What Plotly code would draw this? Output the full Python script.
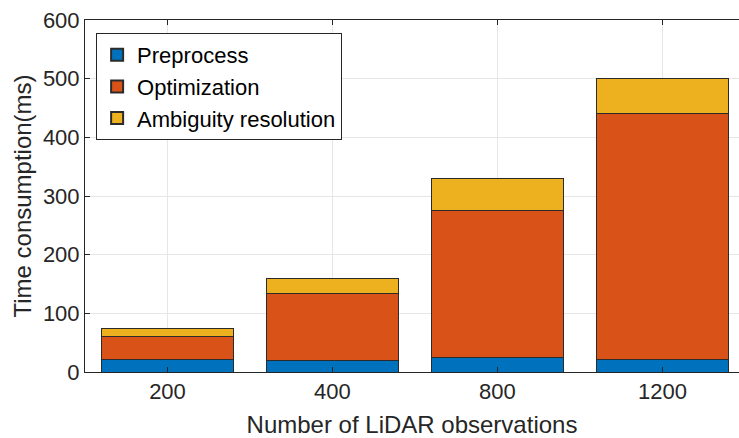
import plotly.graph_objects as go

# Category labels (number of LiDAR observations)
categories = ["200", "400", "800", "1200"]

# Stacked time components (ms)
preprocess = [22, 19, 24, 21]
optimization = [38, 114, 252, 419]
ambiguity = [15, 27, 54, 60]

series_names = ["Preprocess", "Optimization", "Ambiguity resolution"]
series_colors = ["#0072BD", "#D95319", "#EDB120"]

fig = go.Figure()
for name, vals, col in zip(series_names, [preprocess, optimization, ambiguity], series_colors):
    fig.add_trace(go.Bar(
        x=categories, y=vals, name=name,
        marker=dict(color=col, line=dict(color="#2b2b2b", width=1)),
        width=0.8,
    ))

font_family = "Arial, Liberation Sans, Helvetica, sans-serif"
fig.update_layout(
    barmode="stack",
    width=739, height=438,
    margin=dict(l=85, r=0, t=20, b=66),
    paper_bgcolor="white",
    plot_bgcolor="white",
    font=dict(family=font_family, size=20, color="#262626"),
    legend=dict(
        x=0.017, y=0.963, xanchor="left", yanchor="top",
        bgcolor="white", bordercolor="#262626", borderwidth=1,
        font=dict(size=22, color="#000000"),
        traceorder="normal",
        itemsizing="constant",
        tracegroupgap=0,
        itemwidth=30,
    ),
    bargap=0.2,
)
fig.update_xaxes(
    type="category",
    range=[-0.5, 3.464],
    showgrid=True, gridcolor="#e6e6e6", gridwidth=1,
    showline=True, linecolor="#262626", linewidth=1, mirror="ticks",
    ticks="inside", ticklen=5, tickcolor="#262626",
    tickfont=dict(size=22, color="#262626"),
    title=dict(text="Number of LiDAR observations", font=dict(size=24, color="#262626"), standoff=12),
    zeroline=False,
)
fig.update_yaxes(
    range=[0, 600], dtick=100,
    showgrid=True, gridcolor="#e6e6e6", gridwidth=1,
    showline=True, linecolor="#262626", linewidth=1,
    ticks="inside", ticklen=5, tickcolor="#262626",
    tickfont=dict(size=22, color="#262626"),
    title=dict(text="Time consumption(ms)", font=dict(size=24, color="#262626"), standoff=4),
    zeroline=False,
)

fig.write_html("out.html")
